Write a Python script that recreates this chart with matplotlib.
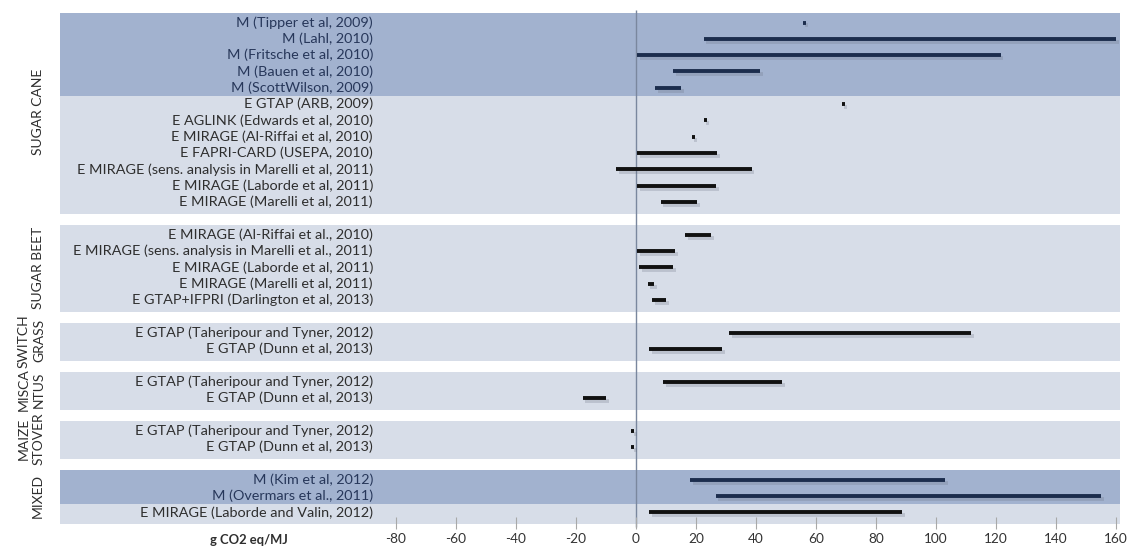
import matplotlib
matplotlib.use('Agg')
import matplotlib.pyplot as plt
import matplotlib.patheffects as pe

plt.rcParams['font.family'] = ['Lato', 'DejaVu Sans']
plt.rcParams['axes.unicode_minus'] = False

# groups of feedstocks, top to bottom
groups = ['SUGAR CANE', 'SUGAR BEET', 'SWITCH\nGRASS', 'MISCA\nNTUS', 'MAIZE\nSTOVER', 'MIXED']
group_sizes = [12, 5, 2, 2, 2, 3]

labels = [
    'M (Tipper et al, 2009)',
    'M (Lahl, 2010)',
    'M (Fritsche et al, 2010)',
    'M (Bauen et al, 2010)',
    'M (ScottWilson, 2009)',
    'E GTAP (ARB, 2009)',
    'E AGLINK (Edwards et al, 2010)',
    'E MIRAGE (Al-Riffai et al, 2010)',
    'E FAPRI-CARD (USEPA, 2010)',
    'E MIRAGE (sens. analysis in Marelli et al, 2011)',
    'E MIRAGE (Laborde et al, 2011)',
    'E MIRAGE (Marelli et al, 2011)',
    'E MIRAGE (Al-Riffai et al., 2010)',
    'E MIRAGE (sens. analysis in Marelli et al., 2011)',
    'E MIRAGE (Laborde et al, 2011)',
    'E MIRAGE (Marelli et al, 2011)',
    'E GTAP+IFPRI (Darlington et al, 2013)',
    'E GTAP (Taheripour and Tyner, 2012)',
    'E GTAP (Dunn et al, 2013)',
    'E GTAP (Taheripour and Tyner, 2012)',
    'E GTAP (Dunn et al, 2013)',
    'E GTAP (Taheripour and Tyner, 2012)',
    'E GTAP (Dunn et al, 2013)',
    'M (Kim et al, 2012)',
    'M (Overmars et al., 2011)',
    'E MIRAGE (Laborde and Valin, 2012)',
]

# range of ILUC estimates, g CO2 eq/MJ
low = [55.5, 22.5, 0.3, 12.4, 6.3, 68.5, 22.5, 18.5, 0.3, -6.7, 0.3, 8.2,
       16.4, 0.3, 1.1, 3.9, 5.3,
       31.0, 4.3,
       9.0, -17.8,
       -1.7, -1.7,
       18.0, 26.5, 4.3]
high = [56.5, 160.0, 121.5, 41.3, 15.0, 69.5, 23.5, 19.5, 27.0, 38.5, 26.7, 20.3,
        25.0, 13.1, 12.4, 6.1, 10.0,
        111.8, 28.7,
        48.8, -10.0,
        -0.7, -0.7,
        103.0, 155.0, 88.8]

# rows drawn on the darker band (model comparisons)
dark_rows = [0, 1, 2, 3, 4, 23, 24]

# row positions: one blank row between groups
ypos = []
bands = []
r = 0
for n in group_sizes:
    bands.append((r, r + n - 1))
    ypos += list(range(r, r + n))
    r += n + 1
band_top = {a: a - 0.6 for a, b in bands}

fig = plt.figure(figsize=(11.34, 5.48), dpi=100)
ax = fig.add_axes([0, 0, 1, 1])
ax.set_xlim(-212, 166)
ax.set_ylim(32.18, -1.378)

light = '#d7dde8'
dark = '#a2b2cf'
left_edge, right_edge = -192, 161.3

for (a, b) in bands:
    ax.barh(a - 0.6, right_edge - left_edge, height=(b - a) + 1.3, left=left_edge,
            align='edge', color=light, zorder=0)
for i in dark_rows:
    top = band_top.get(ypos[i], ypos[i] - 0.5)
    ax.barh(top, right_edge - left_edge, height=ypos[i] + 0.5 - top, left=left_edge,
            align='edge', color=dark, zorder=0.5)

ax.vlines(0, -0.77, 30.9, color='#7a879e', lw=1, zorder=1)

shadow = [pe.SimpleLineShadow(offset=(2.0, -2.0), shadow_color='#6a7080', alpha=0.25),
          pe.Normal()]
for i, y in enumerate(ypos):
    col = '#1c2d4d' if i in dark_rows else '#111111'
    ax.plot([low[i], high[i]], [y, y], color=col, lw=2.8, solid_capstyle='butt',
            path_effects=shadow, zorder=3)
    tcol = '#27375a' if i in dark_rows else '#2e2e2e'
    ax.text(-87.7, y, labels[i], ha='right', va='center', fontsize=10.4, color=tcol)

for g, (a, b) in zip(groups, bands):
    ax.text(-199.5 if '\n' not in g else -201.5, (a + b) / 2, g, rotation=90,
            ha='center', va='center', multialignment='center',
            fontsize=10, color='#2e2e2e', linespacing=1.3)

for s in ['top', 'right', 'left']:
    ax.spines[s].set_visible(False)
ax.spines['bottom'].set_position(('data', 30.62))
ax.spines['bottom'].set_color('none')
ax.set_yticks([])
ax.set_xticks(range(-80, 161, 20))
ax.tick_params(axis='x', direction='inout', length=9, color='#a8a8a8',
               labelsize=9.8, labelcolor='#333333', pad=3)

ax.text(-129, 31.69, 'g CO2 eq/MJ', ha='center', va='center',
        fontsize=9.4, fontweight='bold', color='#2e2e2e')

plt.savefig('out.png', dpi=100)
